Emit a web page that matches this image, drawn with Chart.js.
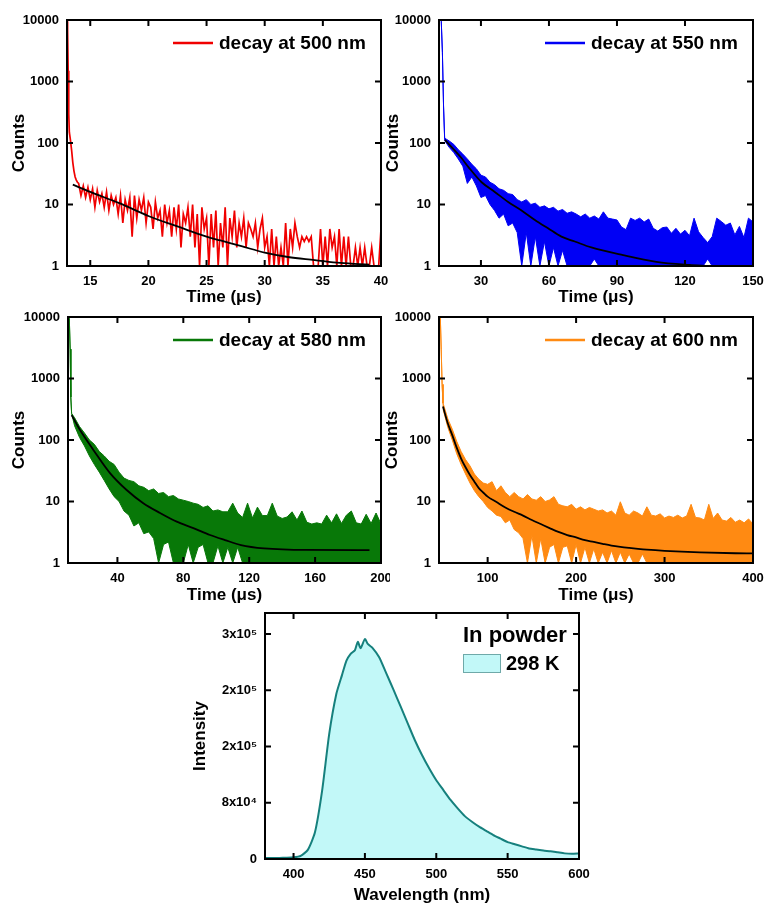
<!DOCTYPE html>
<html>
<head>
<meta charset="utf-8">
<title>Decay curves and emission spectrum</title>
<script src="https://cdn.jsdelivr.net/npm/chart.js@4.4.1/dist/chart.umd.min.js"></script>
<style>
  body { margin: 0; background: #fff; }
  #wrap { position: relative; width: 766px; height: 906px; overflow: hidden; }
  canvas { position: absolute; }
</style>
</head>
<body>
<div id="wrap">
  <canvas id="c500"></canvas>
  <canvas id="c550"></canvas>
  <canvas id="c580"></canvas>
  <canvas id="c600"></canvas>
  <canvas id="cSpec"></canvas>
</div>
<script>
// log axis shared by the four decay panels
const countTicks = [1, 10, 100, 1000, 10000];

// ---- decay at 500 nm (red) ----
const ticks500 = [15, 20, 25, 30, 35, 40];
const head500Time = [13.0, 13.05, 13.1, 13.15, 13.2, 13.3, 13.4, 13.5, 13.6, 13.7, 13.8, 13.9];
const head500Counts = [9500, 7000, 1500, 300, 150, 110, 75, 48, 35, 28, 25, 23];
// tail read on the 0.2 us channel grid starting at 14.0 us
const tail500Start = 14.0, tail500Step = 0.2;
const tail500Counts = [
  22, 14, 20, 13, 19,   12, 18, 9, 17, 11,   15, 9, 16, 8, 14, 10,
  13, 7, 14, 5, 12, 8, 13, 3,   14, 6, 12, 8, 13, 5, 11,
  9, 4, 11, 6, 8, 3, 10, 5,   8, 3, 9, 4, 10, 2, 7, 5, 9, 3,
  10, 2, 7, 1, 9, 4,   6, 1, 7, 2, 8, 1,   5, 2, 9, 1, 6, 3,   8, 2, 5, 3,
  6, 2, 5, 4, 3, 5, 2, 4, 6, 2,   3, 1, 4, 1, 3, 1, 2, 1,
  5, 1, 4, 2, 5, 3, 2, 3, 2.5, 3, 2.5, 3, 1,   1, 1,
  4, 1, 3, 1, 4, 2, 3, 1, 4, 1, 3, 1, 3,   1, 1,   2, 1, 2, 1, 2, 1,   1, 2, 1, 1, 1,   4
];
const fit500Time = [13.5, 15, 17.5, 20, 22.5, 25, 26.2, 28, 30, 32, 34.3, 36.5, 39];
const fit500Counts = [21, 16, 10.5, 6.5, 4.4, 3.0, 2.6, 2.1, 1.65, 1.4, 1.25, 1.12, 1.05];

// ---- decay at 550 nm (blue) ----
const ticks550 = [30, 60, 90, 120, 150];
const head550Time = [11.5, 12, 12.5, 13, 13.5];
const head550Counts = [9000, 10000, 9500, 3000, 400];
// noise band (upper / lower edge) on a 2 us grid from 14 us
const band550Start = 14, band550Step = 2;
const upper550 = [
  120, 108, 95, 78, 66, 55, 45, 38, 30, 28,
  23, 21, 18, 17, 15, 14.5, 12, 11, 12, 10,
  10.5, 9, 9.5, 8.5, 9, 7.8, 8.3, 7.2, 7.6, 7,
  6.3, 7, 6, 6.5, 5.8, 7.6, 6, 5.8, 5.6, 4.3,
  3.9, 6, 5.5, 6, 5.2, 5.8, 4.1, 3.7, 4.2, 4.3,
  3.4, 4.1, 3.3, 3.8, 3.1, 6, 3.6, 2.9, 2.4, 3,
  6, 5.3, 4.6, 5, 3.2, 4.4, 2.9, 6, 5.2
];
const lower550 = [
  110, 85, 70, 55, 42, 22, 28, 20, 13, 14,
  10, 8, 6, 7, 4.5, 5, 3.5, 1, 3.5, 1,
  3, 1, 2.5, 1, 2, 1, 1.8, 1, 1, 1,
  1, 1, 1, 1.3, 1, 1, 1, 1, 1, 1,
  1, 1, 1, 1, 1, 1, 1, 1, 1, 1,
  1, 1, 1, 1, 1, 1, 1, 1, 1.3, 1,
  1, 1, 1, 1, 1, 1, 1, 1, 1
];
const fit550Time = [14.1, 21.4, 24.4, 30.3, 36.1, 42, 47.9, 53.8, 59.6, 65.5, 71.4, 78.7, 92.7, 107.4, 122, 130];
const fit550Counts = [112, 57, 41, 23, 16, 11, 8, 5.6, 4.1, 3.0, 2.5, 2.0, 1.5, 1.17, 1.04, 1.0];

// ---- decay at 580 nm (green) ----
const ticks580 = [40, 80, 120, 160, 200];
const head580Time = [10.2, 10.8, 11.3, 11.7, 12.2];
const head580Counts = [10000, 9500, 3000, 500, 270];
const band580Start = 14, band580Step = 3;
const upper580 = [
  230, 165, 130, 100, 85, 65, 55, 45, 40, 30,
  24, 22, 21, 18, 17, 15, 16, 13.5, 14, 12,
  12.5, 11, 10.5, 10, 9.4, 9, 8, 8.5, 7, 7.3,
  6.8, 6.8, 9.4, 6.5, 5.5, 9.4, 5.4, 8.1, 5.9, 5.9,
  9.4, 5.8, 5.3, 5.6, 6.8, 5, 7, 4.6, 4.3, 4.5,
  4.3, 6, 4.5, 6.3, 4.4, 6, 7, 4.5, 4.3, 6.2,
  4.4, 6.5, 4.3
];
const lower580 = [
  170, 110, 80, 55, 40, 30, 22, 16, 12, 10,
  7, 6, 4, 4.5, 3, 3.2, 2.5, 1, 2, 2.2,
  1, 1, 1, 2, 1, 1.8, 2, 1, 1, 1.9,
  1, 1.8, 1, 1.8, 1, 1, 1, 1, 1, 1,
  1, 1, 1, 1, 1, 1, 1, 1, 1, 1,
  1, 1, 1, 1, 1, 1, 1, 1, 1, 1,
  1, 1, 1
];
const fit580Time = [12.2, 17.3, 25.4, 35.5, 45.6, 55.7, 65.9, 76, 86.1, 96.2, 105.3, 115, 129, 155, 193];
const fit580Counts = [254, 145, 69, 29, 15.4, 9.4, 6.5, 4.7, 3.7, 2.85, 2.36, 1.96, 1.73, 1.63, 1.62];

// ---- decay at 600 nm (orange) ----
const ticks600 = [100, 200, 300, 400];
const head600Time = [45.5, 46.5, 47.5, 48.5, 49.5];
const head600Counts = [9500, 10000, 3000, 800, 400];
const band600Start = 50, band600Step = 5;
const upper600 = [
  380, 220, 150, 95, 65, 48, 38, 28, 23, 20,
  19, 21, 15, 18, 14, 12, 14, 12, 11, 13,
  11, 10.5, 12, 10, 10.6, 12, 9, 8.5, 8.2, 9,
  7.5, 8.2, 7.3, 8, 7.5, 7, 7.3, 6.5, 7, 6,
  9.9, 6.5, 6, 7, 6.5, 5.8, 8.2, 6, 5.8, 6.3,
  5.4, 5.8, 5.5, 6, 5.4, 5.8, 9, 5.5, 5.4, 5,
  9, 5.3, 6.5, 5, 4.8, 5.5, 4.6, 5, 4.5, 5.2,
  4.3
];
const lower600 = [
  300, 160, 100, 60, 40, 28, 20, 15, 12, 10,
  8, 7, 6, 5.7, 4.5, 5, 3.5, 3.1, 2.5, 1,
  2.8, 1, 2.5, 1, 1.8, 2, 1, 1.8, 1.9, 1,
  2, 1, 1.8, 1, 1.7, 1, 1.5, 1, 1.6, 1,
  1.5, 1, 1.4, 1, 1, 1.4, 1, 1, 1, 1,
  1, 1, 1, 1, 1, 1, 1, 1, 1, 1,
  1, 1, 1, 1, 1, 1, 1, 1, 1, 1,
  1
];
const fit600Time = [49.5, 55, 60, 65, 70, 75, 80, 85, 90, 95, 100, 110, 120, 130, 140, 150, 160, 170, 180, 190, 200, 210, 220, 230, 240, 250, 260, 270, 280, 300, 340, 380, 400];
const fit600Counts = [350, 185, 120, 75, 50, 36, 27, 21, 16.5, 14, 12, 9.8, 8, 6.8, 5.9, 5, 4.3, 3.7, 3.2, 2.85, 2.6, 2.35, 2.2, 2.05, 1.92, 1.83, 1.76, 1.7, 1.65, 1.58, 1.49, 1.44, 1.43];

// ---- emission spectrum, powder at 298 K ----
const wavelength = [380, 385, 390, 395, 400, 405, 410, 415, 420, 425,
  430, 434, 437, 440, 443, 445, 447, 450, 452, 455,
  460, 465, 470, 475, 480, 485, 490, 495, 500, 505,
  510, 515, 520, 525, 530, 535, 540, 545, 550, 555,
  560, 565, 570, 575, 580, 585, 590, 595, 600];
const intensity = [1500, 1500, 1500, 1800, 2400, 4500, 13000, 38000, 97000, 178000,
  235000, 262000, 282000, 292000, 297000, 309000, 300000, 313000, 306000, 301000,
  287000, 264000, 241000, 217000, 193000, 169000, 148000, 129000, 112000, 98000,
  84000, 72000, 61000, 53000, 46000, 40000, 34000, 29000, 24000, 21000,
  18000, 15000, 13500, 12000, 11000, 9500, 8000, 7500, 8000];
const wavelengthTicks = [400, 450, 500, 550, 600];
const intensityTicks = [0, 80000, 160000, 240000, 320000];
const intensityTickLabels = ['0', '8x10⁴', '2x10⁵', '2x10⁵', '3x10⁵'];

// ---------------------------------------------------------------
const FONT = '"Liberation Sans", Arial, sans-serif';
Chart.defaults.font.family = FONT;
Chart.defaults.color = '#000';

// canvas box and plot-area box of every panel (page pixels)
const panels = {
  c500:  { left: 0,   top: 0,   w: 390, h: 310, l: 67,  t: 20,  r: 381, b: 266, xTitlePad: 2 },
  c550:  { left: 374, top: 0,   w: 392, h: 310, l: 439, t: 20,  r: 753, b: 266, xTitlePad: 2 },
  c580:  { left: 0,   top: 297, w: 390, h: 310, l: 68,  t: 317, r: 381, b: 563, xTitlePad: 1 },
  c600:  { left: 373, top: 297, w: 393, h: 310, l: 439, t: 317, r: 753, b: 563, xTitlePad: 1 },
  cSpec: { left: 180, top: 593, w: 420, h: 313, l: 265, t: 613, r: 579, b: 859, xTitlePad: 0 }
};

function pts(xs, ys) {
  return xs.map((x, i) => ({ x: x, y: ys[i] }));
}

function gridPts(start, step, ys) {
  return ys.map((y, i) => ({ x: +(start + i * step).toFixed(3), y: y }));
}

// frame with inward ticks on all four sides
const frameTicks = {
  id: 'frameTicks',
  afterDatasetsDraw(chart) {
    const { ctx, chartArea: a, scales: { x, y } } = chart;
    const len = 6;
    ctx.save();
    ctx.strokeStyle = '#000';
    ctx.lineWidth = 2;
    ctx.beginPath();
    x.ticks.forEach(t => {
      const px = x.getPixelForValue(t.value);
      ctx.moveTo(px, a.bottom); ctx.lineTo(px, a.bottom - len);
      ctx.moveTo(px, a.top); ctx.lineTo(px, a.top + len);
    });
    y.ticks.forEach(t => {
      const py = y.getPixelForValue(t.value);
      ctx.moveTo(a.left, py); ctx.lineTo(a.left + len, py);
      ctx.moveTo(a.right, py); ctx.lineTo(a.right - len, py);
    });
    ctx.stroke();
    ctx.strokeRect(a.left, a.top, a.right - a.left, a.bottom - a.top);
    ctx.restore();
  }
};

// legend drawn inside the plot, top right
const insideLegend = {
  id: 'insideLegend',
  afterDraw(chart, args, o) {
    if (!o || !o.text) return;
    const { ctx, chartArea: a } = chart;
    ctx.save();
    ctx.fillStyle = '#000';
    ctx.textBaseline = 'middle';
    ctx.textAlign = 'left';
    if (o.kind === 'line') {
      const y = a.top + 23;
      ctx.strokeStyle = o.color;
      ctx.lineWidth = 2.5;
      ctx.beginPath();
      ctx.moveTo(a.right - 208, y);
      ctx.lineTo(a.right - 168, y);
      ctx.stroke();
      ctx.font = 'bold 19px ' + FONT;
      ctx.fillText(o.text, a.right - 162, y + 1);
    } else {
      ctx.font = 'bold 22px ' + FONT;
      ctx.fillText(o.title, a.right - 116, a.top + 23);
      ctx.fillStyle = o.color;
      ctx.fillRect(a.right - 116, a.top + 41, 38, 19);
      ctx.strokeStyle = o.border;
      ctx.lineWidth = 1;
      ctx.strokeRect(a.right - 115.5, a.top + 41.5, 37, 18);
      ctx.fillStyle = '#000';
      ctx.font = 'bold 20px ' + FONT;
      ctx.fillText(o.text, a.right - 73, a.top + 51);
    }
    ctx.restore();
  }
};

function baseOptions(p, xCfg, yCfg, legend) {
  const tickFont = { size: 13, weight: 'bold' };
  const titleFont = { size: 17, weight: 'bold' };
  return {
    responsive: false,
    animation: false,
    events: [],
    layout: {
      autoPadding: false,
      padding: { left: 0, top: p.t - p.top, right: p.left + p.w - p.r, bottom: 0 }
    },
    elements: { point: { radius: 0 }, line: { tension: 0 } },
    plugins: {
      legend: { display: false },
      tooltip: { enabled: false },
      insideLegend: legend
    },
    scales: {
      x: {
        type: 'linear',
        min: xCfg.min,
        max: xCfg.max,
        grid: { display: false, drawTicks: false },
        border: { display: false },
        afterBuildTicks: s => { s.ticks = xCfg.ticks.map(v => ({ value: v })); },
        afterFit: s => {
          s.height = p.top + p.h - p.b;
          s.paddingLeft = 0;
          s.paddingRight = 0;
        },
        ticks: { font: tickFont, color: '#000', padding: 8, maxRotation: 0, autoSkip: false,
                 callback: v => String(v) },
        title: { display: true, text: xCfg.title, font: titleFont, color: '#000',
                 padding: { top: 0, bottom: p.xTitlePad } }
      },
      y: {
        type: yCfg.type,
        min: yCfg.min,
        max: yCfg.max,
        grid: { display: false, drawTicks: false },
        border: { display: false },
        afterBuildTicks: s => { s.ticks = yCfg.ticks.map(v => ({ value: v })); },
        afterFit: s => {
          s.width = p.l - p.left;
          s.paddingTop = 0;
          s.paddingBottom = 0;
        },
        ticks: { font: tickFont, color: '#000', padding: 8, autoSkip: false,
                 callback: yCfg.labels },
        title: { display: true, text: yCfg.title, font: titleFont, color: '#000',
                 padding: { top: yCfg.titlePad, bottom: 0 } }
      }
    }
  };
}

function setup(id) {
  const p = panels[id];
  const c = document.getElementById(id);
  c.width = p.w;
  c.height = p.h;
  c.style.left = p.left + 'px';
  c.style.top = p.top + 'px';
  return { c, p };
}

const countAxis = { type: 'logarithmic', min: 1, max: 10000, ticks: countTicks,
                    labels: v => String(v), title: 'Counts', titlePad: 9 };

function fitSet(times, counts) {
  return { data: pts(times, counts), borderColor: '#000', borderWidth: 1.8,
           cubicInterpolationMode: 'monotone', fill: false };
}

// red panel: plain noisy trace
(function () {
  const { c, p } = setup('c500');
  const trace = pts(head500Time, head500Counts).concat(gridPts(tail500Start, tail500Step, tail500Counts));
  new Chart(c, {
    type: 'line',
    data: { datasets: [
      fitSet(fit500Time, fit500Counts),
      { data: trace, borderColor: '#f00000', borderWidth: 1.7, fill: false }
    ] },
    options: baseOptions(p, { min: 13, max: 40, ticks: ticks500, title: 'Time (μs)' }, countAxis,
                         { kind: 'line', text: 'decay at 500 nm', color: '#f00000' }),
    plugins: [frameTicks, insideLegend]
  });
})();

// blue, green, orange panels: dense noise drawn as a filled band
function bandPanel(id, head, headCounts, start, step, upper, lower, fitT, fitC, color, xCfg, label) {
  const { c, p } = setup(id);
  const headPts = pts(head, headCounts);
  new Chart(c, {
    type: 'line',
    data: { datasets: [
      fitSet(fitT, fitC),
      { data: headPts.concat(gridPts(start, step, upper)), borderColor: color, backgroundColor: color,
        borderWidth: 1, fill: '+1' },
      { data: headPts.concat(gridPts(start, step, lower)), borderColor: color, borderWidth: 1, fill: false }
    ] },
    options: baseOptions(p, xCfg, countAxis, { kind: 'line', text: label, color: color }),
    plugins: [frameTicks, insideLegend]
  });
}

bandPanel('c550', head550Time, head550Counts, band550Start, band550Step, upper550, lower550,
          fit550Time, fit550Counts, '#0000f5',
          { min: 11.5, max: 150, ticks: ticks550, title: 'Time (μs)' }, 'decay at 550 nm');
bandPanel('c580', head580Time, head580Counts, band580Start, band580Step, upper580, lower580,
          fit580Time, fit580Counts, '#087808',
          { min: 10, max: 200, ticks: ticks580, title: 'Time (μs)' }, 'decay at 580 nm');
bandPanel('c600', head600Time, head600Counts, band600Start, band600Step, upper600, lower600,
          fit600Time, fit600Counts, '#ff8a12',
          { min: 45, max: 400, ticks: ticks600, title: 'Time (μs)' }, 'decay at 600 nm');

// emission spectrum
(function () {
  const { c, p } = setup('cSpec');
  new Chart(c, {
    type: 'line',
    data: { datasets: [{
      data: pts(wavelength, intensity),
      borderColor: '#16807d',
      backgroundColor: '#c2f8f8',
      borderWidth: 2,
      tension: 0.2,
      fill: 'origin'
    }] },
    options: baseOptions(p,
      { min: 380, max: 600, ticks: wavelengthTicks, title: 'Wavelength (nm)' },
      { type: 'linear', min: 0, max: 350000, ticks: intensityTicks,
        labels: (v, i) => intensityTickLabels[i], title: 'Intensity', titlePad: 10.5 },
      { kind: 'box', title: 'In powder', text: '298 K', color: '#c2f8f8', border: '#6fa9a9' }),
    plugins: [frameTicks, insideLegend]
  });
})();
</script>
</body>
</html>
